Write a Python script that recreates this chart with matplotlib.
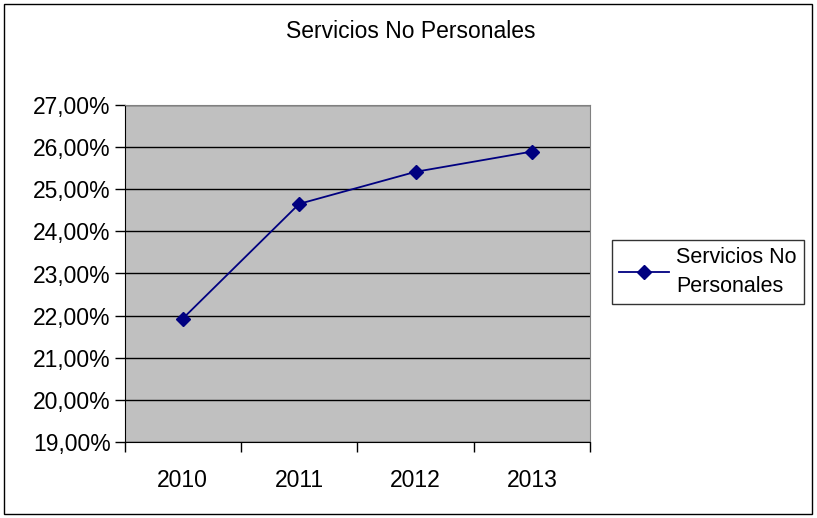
import matplotlib.pyplot as plt
from matplotlib.ticker import FuncFormatter
from matplotlib.patches import Rectangle

plt.rcParams['font.family'] = ['Liberation Sans', 'DejaVu Sans']

years = ["2010", "2011", "2012", "2013"]
values = [21.93, 24.65, 25.41, 25.89]
series_name = "Servicios No\nPersonales"

fig = plt.figure(figsize=(8.17, 5.18), dpi=100)
ax = fig.add_axes([124.5 / 817, 1 - 442.3 / 518, (590.3 - 124.5) / 817, (442.3 - 104.7) / 518])

x = range(len(years))
ax.plot(x, values, color="#000080", marker="D", markersize=7, linewidth=1.3,
        label=series_name, zorder=3)

ax.set_facecolor("#c0c0c0")
ax.set_xlim(-0.5, len(years) - 0.5)
ax.set_ylim(19, 27)
ax.set_yticks(range(19, 28))
ax.yaxis.set_major_formatter(FuncFormatter(lambda v, p: f"{v:.2f}%".replace(".", ",")))
ax.grid(axis="y", color="black", linewidth=1)
ax.set_axisbelow(True)

# category labels between tick marks
ax.set_xticks([i - 0.5 for i in range(len(years) + 1)])
ax.set_xticklabels([])
ax.set_xticks(list(x), minor=True)
ax.set_xticklabels(years, minor=True)
ax.tick_params(axis="x", which="minor", length=0, labelsize=16.5, pad=19)
ax.tick_params(axis="x", which="major", length=7, width=1)
ax.tick_params(axis="y", length=7, width=1, labelsize=16.5, pad=3)

for side in ["top", "right"]:
    ax.spines[side].set_color("#808080")
for side in ["left", "bottom"]:
    ax.spines[side].set_color("black")

fig.text(411 / 817, 1 - 31 / 518, "Servicios No Personales", ha="center", va="center", fontsize=16.5)

leg = fig.legend(loc="center left", bbox_to_anchor=(611.5 / 817, 1 - 272 / 518), fontsize=15.5,
                 frameon=True, fancybox=False, edgecolor="black", borderpad=0.35,
                 handlelength=2.3, handletextpad=0.35, borderaxespad=0)
leg.get_frame().set_linewidth(1)
for t in leg.get_texts():
    t.set_linespacing(1.45)

fig.patches.append(Rectangle((4 / 817, 4 / 518), 808 / 817, 510 / 518, transform=fig.transFigure,
                             fill=False, edgecolor="black", linewidth=1))

fig.savefig("out.png", dpi=100, facecolor="white")
